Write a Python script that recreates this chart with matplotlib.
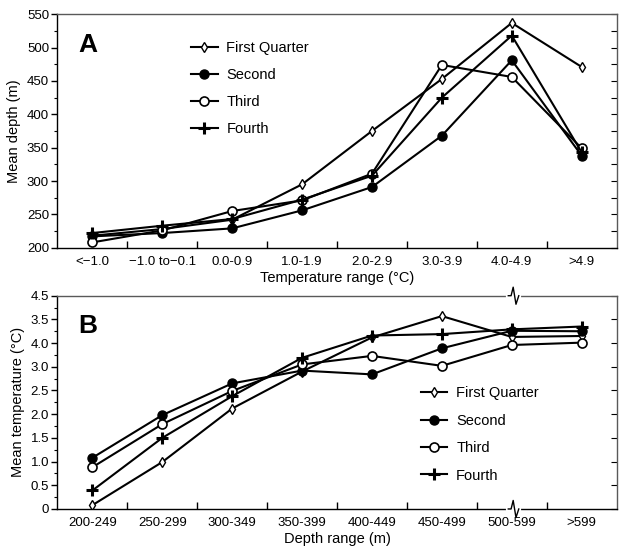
import matplotlib
matplotlib.use('Agg')
import matplotlib.pyplot as plt
import matplotlib.transforms as mtransforms
from matplotlib.ticker import MultipleLocator, FixedLocator
import numpy as np

plt.rcParams['font.family'] = ['Liberation Sans', 'DejaVu Sans']

# panel A: mean depth by temperature range
temp_ranges = ['<\u22121.0', '\u22121.0 to\u22120.1', '0.0-0.9', '1.0-1.9',
               '2.0-2.9', '3.0-3.9', '4.0-4.9', '>4.9']
depth_first = [218, 228, 242, 295, 375, 453, 537, 471]
depth_second = [217, 222, 229, 256, 291, 368, 481, 338]
depth_third = [208, 226, 255, 271, 311, 474, 456, 349]
depth_fourth = [222, 233, 243, 272, 308, 425, 518, 343]

# panel B: mean temperature by depth range (positions on the printed axis)
depth_ranges = ['200-249', '250-299', '300-349', '350-399', '400-449',
                '450-499', '500-599', '>599']
temp_first = [0.08, 0.99, 2.12, 2.90, 3.62, 4.07, 3.63, 3.65]
temp_second = [1.08, 1.98, 2.65, 2.92, 2.84, 3.39, 3.76, 3.75]
temp_third = [0.88, 1.79, 2.49, 3.05, 3.23, 3.02, 3.46, 3.51]
temp_fourth = [0.39, 1.50, 2.38, 3.19, 3.66, 3.69, 3.79, 3.85]
# tick labels exactly as printed in the figure
temp_ticklabels = ['0', '0.5', '1.0', '1.5', '2.0', '2.5', '3.0', '4.0', '3.5', '4.5']

labels = ['First Quarter', 'Second', 'Third', 'Fourth']
styles = [dict(marker='d', mfc='white', mec='black', ms=5, mew=1.0),
          dict(marker='o', mfc='black', mec='black', ms=6.5, mew=1.0),
          dict(marker='o', mfc='white', mec='black', ms=6.5, mew=1.2),
          dict(marker='+', mfc='black', mec='black', ms=8, mew=2.2)]

fig = plt.figure(figsize=(6.19, 5.46), dpi=100)
axA = fig.add_axes([0.0927, 0.5463, 0.9035, 0.4276])
axB = fig.add_axes([0.0927, 0.0678, 0.9035, 0.3906])


def style_axes(ax, cats):
    x = np.arange(len(cats))
    ax.set_xlim(-0.5, len(cats) - 0.5)
    ax.set_xticks(x)
    ax.set_xticklabels(cats, fontsize=9.5)
    ax.xaxis.set_minor_locator(FixedLocator(x[:-1] + 0.5))
    ax.tick_params(axis='x', which='major', length=0, pad=6)
    ax.tick_params(axis='x', which='minor', direction='in', length=5, width=1)
    ax.tick_params(axis='y', which='major', direction='out', length=4, width=1,
                   labelsize=9.5, pad=2)
    ax.tick_params(axis='y', which='minor', direction='out', length=2, width=0.8)
    for s in ax.spines.values():
        s.set_linewidth(1.0)
    ax.spines['top'].set_color('0.35')
    ax.spines['right'].set_color('0.35')
    return x


# ---- A ----
x = style_axes(axA, temp_ranges)
for ys, lab, st in zip([depth_first, depth_second, depth_third, depth_fourth], labels, styles):
    axA.plot(x, ys, color='black', lw=1.5, label=lab, **st)
axA.set_ylim(200, 550)
axA.yaxis.set_major_locator(MultipleLocator(50))
axA.yaxis.set_minor_locator(MultipleLocator(25))
axA.set_ylabel('Mean depth (m)', fontsize=10.5, labelpad=4)
axA.set_xlabel('Temperature range (\u00b0C)', fontsize=10.5, labelpad=2)
axA.text(0.038, 0.87, 'A', transform=axA.transAxes, fontsize=19, fontweight='bold',
         va='center', ha='left')
rA = axA.secondary_yaxis('right')
rA.set_yticks(np.arange(200, 551, 25))
rA.tick_params(direction='in', length=4, labelright=False)
rA.spines['right'].set_visible(False)
axA.legend(loc='upper left', bbox_to_anchor=(0.216, 0.94), frameon=False,
           fontsize=10.5, labelspacing=0.88, handlelength=1.8, handletextpad=0.6)

# ---- B ----
x = style_axes(axB, depth_ranges)
for ys, lab, st in zip([temp_first, temp_second, temp_third, temp_fourth], labels, styles):
    axB.plot(x, ys, color='black', lw=1.5, label=lab, **st)
axB.set_ylim(0, 4.5)
axB.set_yticks(np.arange(0, 4.51, 0.5))
axB.set_yticklabels(temp_ticklabels)
axB.yaxis.set_minor_locator(MultipleLocator(0.25))
axB.set_ylabel('Mean temperature (\u00b0C)', fontsize=10.5, labelpad=4)
axB.set_xlabel('Depth range (m)', fontsize=10.5, labelpad=2)
axB.text(0.038, 0.86, 'B', transform=axB.transAxes, fontsize=19, fontweight='bold',
         va='center', ha='left')
rB = axB.secondary_yaxis('right')
rB.set_yticks(np.arange(0, 4.51, 0.5))
rB.tick_params(direction='in', length=4, labelright=False)
rB.spines['right'].set_visible(False)
axB.legend(loc='upper left', bbox_to_anchor=(0.627, 0.637), frameon=False,
           fontsize=10.5, labelspacing=0.92, handlelength=1.8, handletextpad=0.6)

# axis break marks on the top and bottom spines of B
trans = mtransforms.blended_transform_factory(axB.transData, axB.transAxes)
for yb in (0.0, 1.0):
    axB.plot([5.95, 6.1], [yb, yb], color='white', lw=3, transform=trans,
             clip_on=False, zorder=5)
    axB.plot([5.95, 5.99, 6.02, 6.06, 6.1], [yb, yb, yb + 0.04, yb - 0.04, yb],
             color='black', lw=1.0, transform=trans, clip_on=False, zorder=6)

fig.savefig('out.png', dpi=100)
